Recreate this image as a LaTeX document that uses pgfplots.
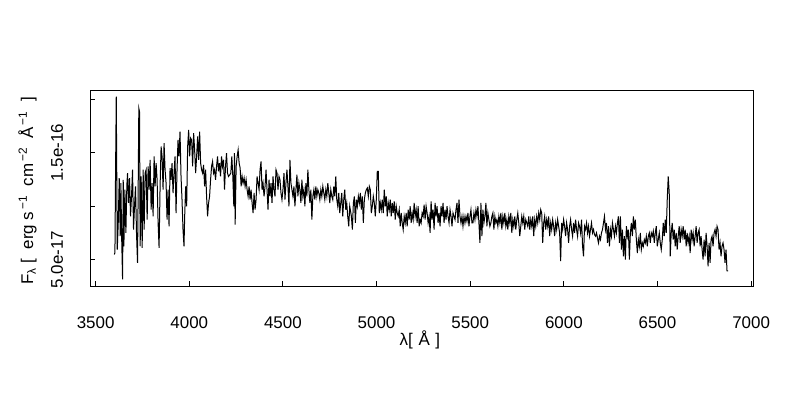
\documentclass[border=0pt]{standalone}
\usepackage{fontspec}
\setmainfont{Liberation Sans}
\usepackage{pgfplots}
\pgfplotsset{compat=1.18}
\newcommand{\lblfont}{\fontsize{17}{20}\selectfont}
\begin{document}
\begin{tikzpicture}
\fill[white] (0,0) rectangle (800bp,400bp);
\path[use as bounding box] (0,0) rectangle (800bp,400bp);
\begin{axis}[
  at={(90bp,114bp)}, anchor=south west,
  scale only axis, width=663bp, height=196bp,
  xmin=3470, xmax=7010, ymin=2.53, ymax=20.87,
  axis line style={line width=0.9bp},
  tick style={line width=0.9bp, black},
  tick align=inside, tick pos=left, major tick length=4.5bp,
  xtick={3500,4000,...,7000},
  ytick={5,10,15,20},
  yticklabels={5.0e-17,,1.5e-16,},
  /pgf/number format/assume math mode=true,
  /pgf/number format/1000 sep={},
  tick label style={font=\lblfont},
  label style={font=\lblfont},
  xticklabel style={anchor=center, yshift=-36.5bp},
  yticklabel style={rotate=90, anchor=center, yshift=33bp},
  xlabel={λ[\,\,Å\,\,]},
  xlabel style={at={(axis description cs:0.4977,-0.2755)}, anchor=center},
  ylabel={F\textsubscript{λ}\ [\ \ erg\ s\textsuperscript{\,−1}\ \ cm\textsuperscript{\,−2}\ \ Å\textsuperscript{\,−1}\ \ ]},
  ylabel style={at={(axis description cs:-0.0943,0.485)}, anchor=center},
]
\addplot[black, line width=1bp, mark=none] table {
x y
3599.5 5.48
3603.1 5.63
3606.6 13.41
3610.2 20.25
3615.5 5.94
3620.8 8.43
3626.1 12.63
3631.4 7.19
3635.0 12.16
3638.5 7.50
3643.9 3.14
3647.4 12.47
3650.9 6.25
3656.3 11.54
3661.6 7.50
3666.9 12.01
3670.5 13.10
3675.8 10.30
3681.1 12.63
3686.4 9.05
3691.7 10.92
3697.1 13.41
3702.4 7.81
3707.7 9.99
3713.0 11.85
3718.3 7.50
3723.7 4.70
3727.2 11.54
3730.7 19.16
3734.3 18.85
3737.8 6.25
3743.2 12.78
3748.5 6.10
3753.8 13.41
3759.1 7.81
3764.4 13.10
3769.8 13.41
3775.1 8.74
3780.4 13.72
3785.7 11.54
3791.0 14.34
3796.4 9.67
3801.7 12.16
3807.0 9.05
3812.3 14.65
3817.6 11.85
3823.0 14.03
3828.3 12.47
3833.6 8.43
3838.9 6.10
3844.2 11.85
3849.6 15.58
3854.9 14.65
3860.2 11.54
3865.5 15.89
3870.8 13.41
3876.2 12.16
3881.5 8.74
3886.8 11.54
3892.1 8.12
3897.4 13.56
3902.8 12.47
3908.1 14.03
3913.4 11.23
3918.7 13.10
3924.0 14.65
3929.4 9.36
3934.7 13.41
3940.0 16.20
3945.3 14.65
3950.6 16.98
3956.0 12.78
3961.3 10.61
3966.6 7.81
3971.9 6.25
3975.5 9.05
3980.8 11.85
3986.1 9.99
3991.4 15.58
3996.7 17.14
4002.1 14.65
4007.4 16.36
4012.7 16.20
4018.0 13.72
4023.3 16.83
4028.7 15.27
4034.0 13.10
4039.3 14.65
4044.6 16.52
4049.9 14.34
4055.3 16.98
4060.6 14.03
4065.9 13.41
4071.2 13.10
4076.5 13.87
4081.9 11.85
4087.2 13.41
4092.5 10.92
4097.8 9.05
4103.1 10.30
4108.5 10.92
4113.8 12.47
4119.1 13.72
4124.4 14.18
4129.7 13.10
4135.1 13.41
4140.4 12.47
4145.7 13.72
4151.0 14.65
4156.3 13.25
4161.7 14.03
4167.0 12.78
4172.3 14.65
4177.6 13.72
4182.9 14.34
4188.3 11.54
4193.6 13.72
4198.9 14.96
4204.2 13.10
4209.5 12.78
4216.6 12.94
4221.9 13.10
4227.2 14.65
4232.6 12.78
4237.9 9.99
4241.4 14.96
4245.0 8.27
4250.3 13.72
4255.6 14.65
4260.9 15.27
4266.3 14.03
4271.6 13.56
4276.9 11.85
4282.2 12.78
4287.5 12.16
4292.9 12.63
4298.2 11.85
4303.5 12.47
4308.8 11.54
4314.1 10.92
4319.5 11.85
4324.8 10.61
4330.1 11.54
4335.4 10.30
4340.7 9.36
4346.1 11.23
4351.4 9.67
4356.7 10.61
4362.0 12.78
4367.3 12.16
4372.7 11.54
4378.0 13.41
4383.3 14.18
4388.6 11.54
4393.9 12.16
4399.3 10.92
4404.6 11.85
4409.9 13.41
4415.2 11.54
4420.5 9.67
4425.9 12.47
4431.2 10.92
4436.5 12.16
4441.8 10.30
4447.1 12.78
4452.5 11.54
4457.8 10.92
4463.1 13.41
4468.4 13.10
4473.7 11.54
4479.1 12.78
4484.4 12.47
4489.7 11.23
4495.0 10.61
4500.3 11.54
4505.7 13.10
4511.0 10.61
4516.3 12.16
4521.6 13.41
4526.9 11.85
4532.3 9.99
4537.6 14.34
4542.9 12.16
4548.2 11.54
4553.5 10.92
4558.9 11.85
4564.2 9.99
4569.5 11.54
4574.8 12.94
4580.1 10.92
4585.5 12.16
4590.8 11.54
4596.1 10.30
4601.4 12.47
4606.7 10.92
4612.1 11.54
4617.4 9.99
4622.7 12.16
4628.0 10.92
4633.3 13.41
4638.7 11.54
4644.0 10.30
4649.3 11.54
4654.6 8.74
4659.9 10.92
4665.3 11.54
4670.6 10.61
4675.9 11.85
4681.2 10.92
4686.5 11.54
4691.9 11.23
4697.2 10.61
4702.5 11.54
4707.8 10.92
4713.1 11.85
4718.5 11.23
4723.8 10.61
4729.1 11.54
4734.4 10.92
4739.7 12.16
4745.1 11.23
4750.4 10.30
4755.7 11.54
4761.0 10.92
4766.3 10.61
4771.7 11.85
4777.0 10.92
4782.3 12.78
4787.6 10.61
4792.9 9.99
4798.3 11.23
4803.6 9.36
4808.9 10.30
4814.2 11.23
4819.5 9.05
4824.9 10.61
4830.2 11.54
4835.5 9.67
4840.8 10.30
4846.1 9.05
4851.5 8.12
4856.8 9.99
4865.6 9.05
4870.9 7.81
4876.2 10.30
4881.6 10.92
4886.9 8.43
4892.2 10.61
4897.5 9.99
4902.8 10.92
4908.2 10.30
4913.5 11.23
4918.8 9.67
4924.1 10.92
4929.4 8.43
4934.8 10.61
4940.1 11.23
4945.4 11.54
4950.7 11.70
4956.0 10.92
4961.4 11.85
4966.7 11.54
4972.0 9.36
4977.3 9.99
4982.6 10.92
4988.0 10.30
4993.3 9.05
4998.6 10.61
5003.9 13.25
5009.2 13.25
5014.6 9.36
5019.9 10.30
5025.2 9.67
5030.5 10.61
5035.8 9.36
5041.2 11.54
5046.5 9.99
5051.8 10.92
5057.1 9.05
5062.4 10.30
5067.8 9.67
5073.1 10.61
5078.4 9.05
5083.7 10.30
5089.0 9.36
5094.4 10.45
5099.7 8.74
5105.0 9.99
5110.3 9.36
5115.6 9.05
5121.0 9.67
5126.3 8.12
5131.6 9.36
5136.9 8.43
5142.2 7.81
5147.6 9.05
5152.9 8.43
5158.2 9.36
5163.5 8.12
5168.8 9.67
5174.2 8.74
5179.5 9.99
5184.8 8.43
5190.1 9.36
5195.4 8.74
5200.8 10.30
5206.1 9.05
5211.4 9.67
5216.7 8.43
5222.0 9.99
5227.4 8.12
5232.7 8.74
5238.0 8.43
5243.3 9.36
5248.6 9.05
5254.0 10.14
5259.3 8.74
5264.6 9.99
5269.9 9.36
5275.2 8.43
5280.6 9.05
5285.9 7.50
5291.2 10.45
5296.5 8.74
5301.8 9.67
5307.2 7.81
5312.5 10.30
5317.8 9.05
5323.1 9.99
5328.4 8.43
5333.8 9.36
5339.1 8.12
5344.4 9.99
5349.7 9.05
5355.0 10.30
5360.4 8.43
5365.7 9.67
5371.0 8.74
5376.3 9.99
5381.6 9.05
5387.0 8.43
5392.3 9.67
5397.6 9.05
5402.9 8.12
5408.2 9.36
5413.6 9.05
5418.9 8.74
5424.2 9.67
5429.5 10.30
5434.8 8.43
5440.2 10.61
5445.5 9.05
5450.8 8.43
5456.1 9.05
5461.4 8.12
5466.8 9.05
5472.1 8.43
5477.4 9.05
5482.7 8.58
5488.0 9.36
5493.4 8.12
5498.7 9.05
5504.0 9.67
5509.3 8.43
5514.7 8.43
5520.0 9.36
5525.3 8.74
5530.7 9.67
5536.0 9.05
5541.3 9.99
5546.6 8.43
5551.9 6.56
5557.3 10.30
5562.6 7.19
5567.9 9.67
5573.2 8.43
5578.5 9.05
5583.9 10.30
5589.2 8.12
5594.5 9.36
5599.8 8.74
5605.1 8.12
5610.5 8.43
5615.8 9.05
5621.1 9.36
5626.4 7.81
5631.7 9.05
5637.1 8.43
5642.4 8.74
5647.7 8.12
5653.0 9.05
5658.3 8.43
5663.7 9.36
5669.0 7.81
5674.3 9.05
5679.6 8.43
5684.9 9.36
5690.3 8.12
5695.6 8.74
5700.9 7.81
5706.2 9.05
5711.5 8.43
5716.9 9.36
5722.2 7.50
5727.5 8.74
5732.8 8.12
5738.1 9.05
5743.5 7.81
5748.8 8.74
5754.1 9.36
5759.4 8.43
5764.7 7.19
5770.1 8.12
5775.4 9.05
5780.7 8.43
5786.0 9.05
5791.3 7.81
5796.7 8.74
5802.0 8.43
5807.3 8.12
5812.6 9.05
5817.9 7.81
5823.3 8.74
5828.6 8.12
5833.9 9.05
5839.2 7.19
5844.5 8.74
5849.9 8.12
5855.2 9.05
5860.5 8.43
5865.8 9.36
5871.1 8.74
5876.5 9.67
5881.8 9.36
5887.1 6.56
5892.4 8.43
5897.7 9.05
5903.1 7.81
5908.4 8.74
5913.7 8.12
5919.0 9.05
5924.3 7.19
5929.7 8.43
5935.0 7.81
5940.3 8.74
5945.6 8.12
5950.9 7.19
5956.3 8.43
5961.6 7.81
5966.9 8.74
5972.2 8.12
5977.5 7.50
5982.9 4.85
5988.2 8.43
5993.5 7.81
5998.8 8.74
6004.1 8.12
6009.5 7.19
6014.8 8.43
6020.1 7.81
6025.4 6.56
6030.7 8.12
6036.1 8.74
6041.4 7.81
6046.7 7.19
6052.0 8.43
6057.3 7.50
6062.7 8.74
6068.0 7.81
6073.3 7.19
6078.6 8.43
6083.9 8.12
6089.3 7.50
6094.6 8.74
6099.9 6.25
6105.2 5.31
6110.5 8.12
6115.9 7.81
6121.2 8.43
6126.5 7.50
6131.8 8.12
6137.1 7.19
6142.5 7.81
6147.8 8.43
6153.1 7.50
6158.4 7.81
6163.7 7.33
6169.0 7.19
6174.3 7.50
6179.7 7.02
6185.0 6.56
6190.3 7.19
6195.6 6.87
6200.9 7.50
6206.3 7.81
6211.6 8.43
6216.9 9.05
6222.2 7.81
6227.5 8.43
6232.9 6.56
6238.2 8.12
6243.5 6.25
6248.8 7.81
6254.1 7.19
6259.5 8.43
6264.8 7.81
6270.1 7.19
6275.4 8.12
6280.7 7.50
6286.1 8.43
6291.4 9.05
6296.7 6.56
6302.0 9.05
6307.3 5.94
6312.7 7.81
6318.0 5.31
6323.3 7.19
6328.6 5.00
6333.9 8.12
6339.3 7.19
6344.6 7.81
6349.9 5.00
6355.2 7.50
6360.5 8.43
6365.9 7.19
6371.2 9.05
6376.5 7.81
6381.8 8.74
6387.1 6.87
6392.5 5.62
6397.8 6.87
6403.1 6.25
6408.4 7.50
6413.7 5.94
6419.1 6.56
6424.4 6.25
6429.7 6.87
6435.0 6.56
6440.3 7.19
6445.7 6.25
6451.0 7.19
6456.3 7.50
6461.6 6.56
6466.9 7.50
6472.3 7.19
6477.6 7.65
6482.9 6.56
6488.2 7.50
6493.5 8.12
6498.9 6.25
6504.2 6.87
6509.5 7.50
6514.8 6.56
6520.1 5.94
6525.5 6.87
6530.8 8.43
6536.1 7.19
6541.4 8.74
6546.7 7.50
6552.1 10.61
6557.3 12.78
6562.7 11.23
6568.0 5.31
6573.3 7.50
6578.6 8.43
6583.9 6.87
6589.3 7.81
6594.6 6.25
6599.9 7.50
6605.2 5.94
6610.5 7.19
6615.9 8.12
6621.2 6.56
6626.5 7.81
6631.8 7.19
6637.1 8.12
6642.5 6.87
6647.8 7.81
6653.1 6.25
6658.4 7.50
6663.7 6.56
6669.1 7.19
6674.4 5.62
6679.7 7.81
6685.0 6.87
6690.3 7.50
6695.7 6.25
6701.0 7.19
6706.3 8.12
6711.6 6.56
6716.9 7.50
6722.3 7.81
6727.6 6.25
6732.9 7.19
6738.2 5.94
6743.5 5.00
6748.9 6.87
6754.2 5.31
6759.5 7.50
6764.8 6.25
6770.1 4.38
6775.5 6.56
6780.8 4.69
6786.1 6.87
6791.4 7.19
6796.7 6.25
6802.1 7.50
6807.4 7.81
6812.7 7.19
6818.0 8.12
6823.3 7.81
6828.7 5.94
6834.0 6.56
6839.3 5.31
6844.6 6.25
6849.9 6.56
6855.3 5.94
6860.6 4.69
6865.9 5.94
6871.2 3.94
6876.5 3.94
};
\end{axis}
\end{tikzpicture}
\end{document}
